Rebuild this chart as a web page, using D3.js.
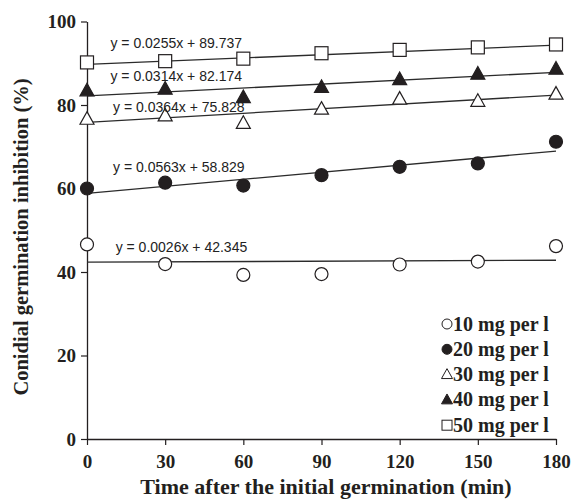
<!DOCTYPE html>
<html>
<head>
<meta charset="utf-8">
<script src="https://cdn.jsdelivr.net/npm/d3@7"></script>
<style>
  body{margin:0;background:#fff;}
  svg{display:block;}
</style>
</head>
<body>
<div id="chart"></div>
<script>
// data
var times = [0, 30, 60, 90, 120, 150, 180];
var seriesNames = ["10 mg per l", "20 mg per l", "30 mg per l", "40 mg per l", "50 mg per l"];
var mg10 = [46.6, 41.9, 39.3, 39.5, 41.8, 42.5, 46.2];
var mg20 = [60.0, 61.4, 60.7, 63.2, 65.2, 66.0, 71.2];
var mg30 = [76.6, 77.4, 75.6, 79.0, 81.4, 80.9, 82.6];
var mg40 = [83.4, 83.8, 81.8, 84.2, 86.1, 87.4, 88.6];
var mg50 = [90.2, 90.5, 91.1, 92.4, 93.2, 93.8, 94.5];
var slopes = [0.0026, 0.0563, 0.0364, 0.0314, 0.0255];
var intercepts = [42.345, 58.829, 75.828, 82.174, 89.737];
var yTicks = [0, 20, 40, 60, 80, 100];
var xTicks = [0, 30, 60, 90, 120, 150, 180];

var values = [mg10, mg20, mg30, mg40, mg50];
var symbols = ["circle-open", "circle", "triangle-open", "triangle", "square-open"];
// where each equation label sits (offset above its trend line, in %)
var labelPos = [{x:11, dy:2.4}, {x:10, dy:4.5}, {x:10, dy:2.1}, {x:9, dy:3.2}, {x:9, dy:3.6}];

var width = 571, height = 500;
var margin = {left:87, right:15, top:21.5, bottom:61};
var ink = "#231f20";
var serif = "'Liberation Serif','Times New Roman',serif";
var sans = "'Liberation Sans',Arial,sans-serif";

var svg = d3.select("#chart").append("svg")
    .attr("width", width).attr("height", height);

var x = d3.scaleLinear().domain([0, 180]).range([margin.left, width - margin.right]);
var y = d3.scaleLinear().domain([0, 100]).range([height - margin.bottom, margin.top]);

function drawSymbol(g, type, size, sw){
    var r = size/2;
    var filled = type.indexOf("open") < 0;
    var fill = filled ? ink : "#fff";
    if(type.indexOf("circle") == 0){
        g.append("circle").attr("r", r).attr("fill", fill)
            .attr("stroke", ink).attr("stroke-width", sw);
    }else if(type.indexOf("triangle") == 0){
        var h = size*0.9;
        g.append("path")
            .attr("d", "M0," + (-h*0.6) + "L" + r + "," + (h*0.4) + "L" + (-r) + "," + (h*0.4) + "Z")
            .attr("fill", fill).attr("stroke", ink).attr("stroke-width", sw);
    }else{
        g.append("rect").attr("x", -r).attr("y", -r)
            .attr("width", size).attr("height", size)
            .attr("fill", fill).attr("stroke", ink).attr("stroke-width", sw);
    }
}

// axes
var xAxis = svg.append("g")
    .attr("transform", "translate(0," + y(0) + ")")
    .call(d3.axisBottom(x).tickValues(xTicks).tickSize(6).tickSizeOuter(0).tickPadding(6));
var yAxis = svg.append("g")
    .attr("transform", "translate(" + x(0) + ",0)")
    .call(d3.axisLeft(y).tickValues(yTicks).tickSize(6).tickSizeOuter(0).tickPadding(5));

[xAxis, yAxis].forEach(function(a){
    a.select(".domain").attr("stroke", ink).attr("stroke-width", 1.3);
    a.selectAll(".tick line").attr("stroke", ink).attr("stroke-width", 1.2);
    a.selectAll(".tick text")
        .attr("fill", ink)
        .attr("font-family", serif)
        .attr("font-weight", "bold")
        .attr("font-size", "19px");
});
xAxis.selectAll(".tick text").attr("dy", "0.9em");

// trend lines
var line = d3.line().x(function(d){return x(d[0]);}).y(function(d){return y(d[1]);});
slopes.forEach(function(s, i){
    var pts = [0, 180].map(function(t){return [t, s*t + intercepts[i]];});
    svg.append("path")
        .attr("d", line(pts))
        .attr("fill", "none")
        .attr("stroke", "#2b2b2b")
        .attr("stroke-width", 1.3);
});

// points
values.forEach(function(vals, i){
    var g = svg.append("g").attr("class", "series-" + i);
    vals.forEach(function(v, j){
        var p = g.append("g").attr("transform", "translate(" + x(times[j]) + "," + y(v) + ")");
        drawSymbol(p, symbols[i], symbols[i].indexOf("triangle") == 0 ? 14 : 13, 1.2);
    });
});

// equation labels
slopes.forEach(function(s, i){
    var lp = labelPos[i];
    svg.append("text")
        .attr("x", x(lp.x))
        .attr("y", y(s*lp.x + intercepts[i] + lp.dy))
        .attr("font-family", sans)
        .attr("font-size", "14px")
        .attr("fill", "#222")
        .text("y = " + s.toFixed(4) + "x + " + intercepts[i].toFixed(3));
});

// legend
var legend = svg.append("g").attr("transform", "translate(447,324)");
seriesNames.forEach(function(name, i){
    var row = legend.append("g").attr("transform", "translate(0," + (i*25.3) + ")");
    drawSymbol(row.append("g"), symbols[i], symbols[i].indexOf("triangle") == 0 ? 11 : 10, 1);
    row.append("text")
        .attr("x", 6)
        .attr("y", 6.5)
        .attr("font-family", serif)
        .attr("font-weight", "bold")
        .attr("font-size", "20px")
        .attr("fill", ink)
        .text(name);
});

// axis titles
svg.append("text")
    .attr("x", 326)
    .attr("y", 494)
    .attr("text-anchor", "middle")
    .attr("font-family", serif)
    .attr("font-weight", "bold")
    .attr("font-size", "22px")
    .attr("fill", ink)
    .text("Time after the initial germination (min)");

svg.append("text")
    .attr("transform", "translate(28,237) rotate(-90)")
    .attr("text-anchor", "middle")
    .attr("font-family", serif)
    .attr("font-weight", "bold")
    .attr("font-size", "20.5px")
    .attr("fill", ink)
    .text("Conidial germination inhibition (%)");
</script>
</body>
</html>
